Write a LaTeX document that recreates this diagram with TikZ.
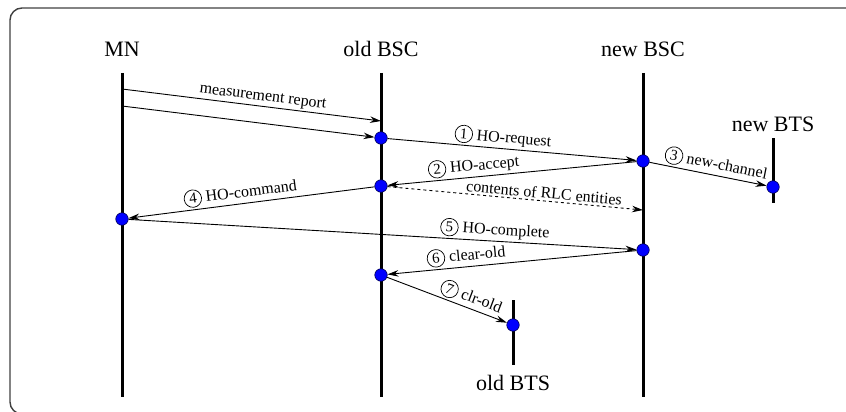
\documentclass[tikz,border=0pt]{standalone}
\usepackage{fontspec}
\setmainfont{Liberation Serif}
\usetikzlibrary{arrows.meta}
% circled step number
\newcommand\stepnum[1]{\tikz[baseline=0pt]\node[draw,circle,anchor=base,inner sep=1.8pt,line width=0.7pt,font=\fontsize{15}{15}\selectfont]{#1};}
\begin{document}
\begin{tikzpicture}[x=1pt,y=-1pt,
  lifeline/.style={line width=3pt},
  msg/.style={line width=0.9pt,-{Stealth[length=11pt,width=6.5pt]}},
  dot/.style={circle,fill=blue,draw=black!70!blue,line width=0.6pt,inner sep=0pt,minimum size=12.5pt},
  head/.style={font=\fontsize{22}{24}\selectfont,anchor=base},
  lbl/.style={font=\fontsize{16}{18}\selectfont,above,sloped,inner sep=2pt}]
\clip (0,0) rectangle (846,412);
% frame
\draw[line width=1.4pt,draw=black!75,rounded corners=12pt] (10,8) rectangle (880,414);

% headings
\node[head] (hMN) at (122,57) {MN};
\node[head] (hOB) at (381,57) {old BSC};
\node[head] (hNB) at (643,57) {new BSC};
\node[head] (hNT) at (773,131) {new BTS};
\node[head] (hOT) at (513,390) {old BTS};

% lifelines
\coordinate (mnT) at (122,73);  \coordinate (mnB) at (122,397);
\coordinate (obT) at (381,73);  \coordinate (obB) at (381,397);
\coordinate (nbT) at (643,73);  \coordinate (nbB) at (643,397);
\coordinate (ntT) at (773,138); \coordinate (ntB) at (773,203);
\coordinate (otT) at (513,300); \coordinate (otB) at (513,365);
\draw[lifeline] (mnT) -- (mnB);
\draw[lifeline] (obT) -- (obB);
\draw[lifeline] (nbT) -- (nbB);
\draw[lifeline] (ntT) -- (ntB);
\draw[lifeline] (otT) -- (otB);

% event points
\node[dot] (o1) at (381,138) {};
\node[dot] (n1) at (643,161) {};
\node[dot] (nt) at (773,187) {};
\node[dot] (o2) at (381,186) {};
\node[dot] (m1) at (122,219) {};
\node[dot] (n2) at (643,250) {};
\node[dot] (o3) at (381,275) {};
\node[dot] (ot) at (513,325) {};
\coordinate (mr1s) at (122,89);
\coordinate (mr1e) at (381,121);
\coordinate (mr2s) at (122,106);
\coordinate (rlc)  at (643,210);

% messages
\draw[msg] (mr1s) -- node[lbl,pos=0.54] {measurement report} (mr1e);
\draw[msg] (mr2s) -- (o1);
\draw[msg] (o1) -- node[lbl,pos=0.46] {\stepnum{1}\ HO-request} (n1);
\draw[msg] (n1) -- node[lbl,pos=0.55] {\stepnum{3}\ new-channel} (nt);
\draw[msg] (n1) -- node[lbl,pos=0.65] {\stepnum{2}\ HO-accept} (o2);
\draw[msg,dashed] (o2) -- node[lbl,pos=0.61] {contents of RLC entities} (rlc);
\draw[msg] (o2) -- node[lbl,pos=0.54] {\stepnum{4}\ HO-command} (m1);
\draw[msg] (m1) -- node[lbl,pos=0.72] {\stepnum{5}\ HO-complete} (n2);
\draw[msg] (n2) -- node[lbl,pos=0.68] {\stepnum{6}\ clear-old} (o3);
\draw[msg] (o3) -- node[lbl,pos=0.67] {\stepnum{7}\ clr-old} (ot);
\end{tikzpicture}
\end{document}
